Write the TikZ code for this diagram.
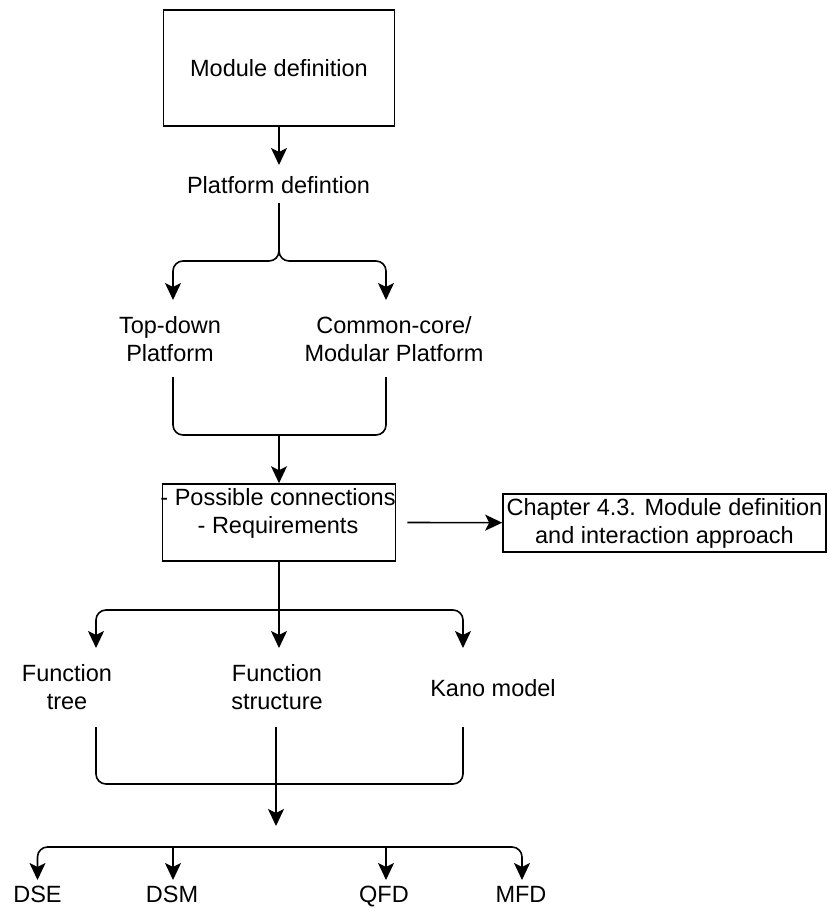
\documentclass[tikz,border=0pt]{standalone}
\usepackage{fontspec}
\setmainfont{Liberation Sans}
\usetikzlibrary{arrows.meta}

\begin{document}
\begin{tikzpicture}
    [x=1pt, y=-1pt, line width=1.6pt,
     font=\fontsize{23.5}{28}\selectfont,
     box/.style={draw, inner sep=0pt},
     txt/.style={align=center, inner sep=0pt},
     link/.style={-{Stealth[length=17pt, width=16pt, inset=4pt]}, rounded corners=10pt}]
    \useasboundingbox (0, 0) rectangle (828, 912);
    \node[box, minimum width=231pt, minimum height=116pt] (module) at (279, 68) {Module definition};
    \node[txt] (platform) at (278.5, 185) {Platform defintion};
    \node[txt] (topdown) at (170, 339) {Top-down\\Platform};
    \node[txt] (common) at (394, 339) {Common-core/\\Modular Platform};
    \node[box, minimum width=233pt, minimum height=77pt] (req) at (279, 522.5) {};
    \node[txt] (reqtext) at (278, 513) {- Possible connections\\- Requirements};
    \node[box, align=center, minimum width=323pt, minimum height=58pt] (chapter) at (664.5, 523)
      {Chapter 4.3. Module definition\\and interaction approach};
    \node[txt] (ftree) at (67, 687) {Function\\tree};
    \node[txt] (fstruct) at (277, 687) {Function\\structure};
    \node[txt] (kano) at (493, 688) {Kano model};
    \node[txt, anchor=base] (dse) at (37.5, 902) {DSE};
    \node[txt, anchor=base] (dsm) at (172, 902) {DSM};
    \node[txt, anchor=base] (qfd) at (384, 902) {QFD};
    \node[txt, anchor=base] (mfd) at (521, 902) {MFD};

    \coordinate (platformin) at (279, 165);
    \coordinate (platformout) at (279, 203);
    \coordinate (split1) at (279, 261);
    \coordinate (topin) at (173, 300);
    \coordinate (commonin) at (386, 300);
    \coordinate (topout) at (173, 377);
    \coordinate (commonout) at (386, 377);
    \coordinate (join1) at (279, 435);
    \coordinate (split2) at (279, 610);
    \coordinate (ftreein) at (96, 648);
    \coordinate (fstructin) at (279, 648);
    \coordinate (kanoin) at (463, 648);
    \coordinate (ftreeout) at (96, 727);
    \coordinate (fstructout) at (276, 727);
    \coordinate (kanoout) at (463, 727);
    \coordinate (join2) at (276, 784);
    \coordinate (merge) at (276, 826);
    \coordinate (split3) at (276, 847);
    \coordinate (dsein) at (37.5, 880);
    \coordinate (dsmin) at (173, 880);
    \coordinate (qfdin) at (386, 880);
    \coordinate (mfdin) at (522, 880);

    \draw[link] (module) -- (platformin);
    \draw[link] (platformout) -- (split1) -| (topin);
    \draw[link] (platformout) -- (split1) -| (commonin);
    \draw[rounded corners=10pt] (topout) |- (join1) -| (commonout);
    \draw[link] (join1) -- (req);
    \draw[link] ([xshift=11pt]req.east) -- (chapter);
    \draw[link] (req) -- (fstructin);
    \draw[link] (split2) -| (ftreein);
    \draw[link] (split2) -| (kanoin);
    \draw[rounded corners=10pt] (ftreeout) |- (join2) -| (kanoout);
    \draw[link] (fstructout) -- (merge);
    \draw[link] (split3) -| (dsein);
    \draw[link] (split3) -| (mfdin);
    \draw[link] (dsmin |- split3) -- (dsmin);
    \draw[link] (qfdin |- split3) -- (qfdin);
  \end{tikzpicture}
\end{document}
